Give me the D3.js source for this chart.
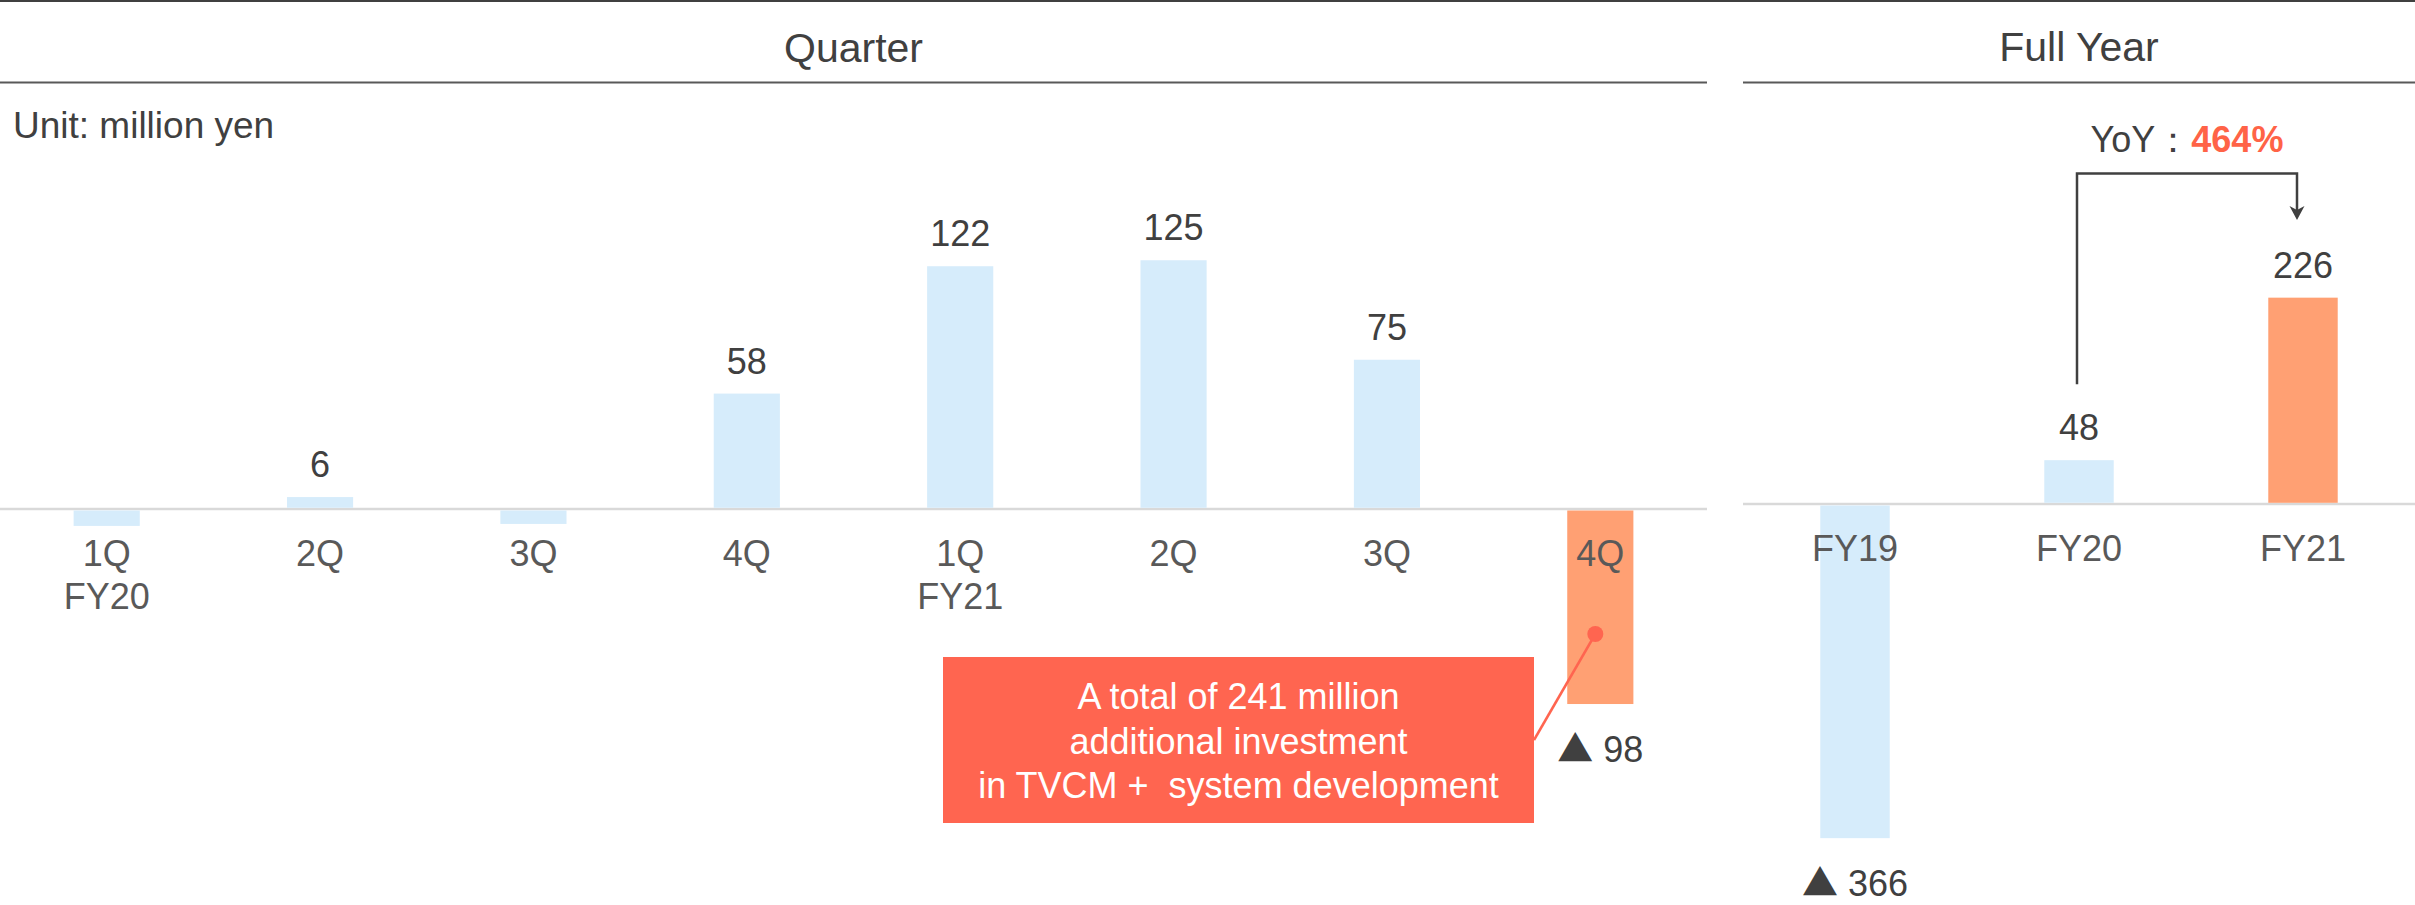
<!DOCTYPE html>
<html>
<head>
<meta charset="utf-8">
<script src="https://cdn.jsdelivr.net/npm/d3@7"></script>
<style>
  html, body { margin: 0; padding: 0; background: #fff; }
  svg { display: block; }
  text { font-family: "Liberation Sans", Arial, sans-serif; }
  .tri { font-family: "Noto Sans CJK JP", "DejaVu Sans", sans-serif; }
</style>
</head>
<body>
<div id="chart"></div>
<script>
// ---- Data ----
const quarters = ["1Q FY20", "2Q FY20", "3Q FY20", "4Q FY20", "1Q FY21", "2Q FY21", "3Q FY21", "4Q FY21"];
const quarterTop = ["1Q", "2Q", "3Q", "4Q", "1Q", "2Q", "3Q", "4Q"];
const quarterSub = ["FY20", "", "", "", "FY21", "", "", ""];
const quarterValues = [-8.5, 6, -7.5, 58, 122, 125, 75, -98];
const quarterLabels = ["", "6", "", "58", "122", "125", "75", "98"];
const quarterHighlight = [false, false, false, false, false, false, false, true];

const years = ["FY19", "FY20", "FY21"];
const yearValues = [-366, 48, 226];
const yearLabels = ["366", "48", "226"];
const yearHighlight = [false, false, true];

const yoyText = "464%";
const calloutLines = ["A total of 241 million", "additional investment", "in TVCM +  system development"];

// ---- Styles ----
const W = 2415, H = 905;
const blue = "#D6ECFB", orange = "#FFA073", red = "#FF6550";
const dark = "#404040", gray = "#595959";

const svg = d3.select("#chart").append("svg").attr("width", W).attr("height", H);
svg.append("rect").attr("width", W).attr("height", H).attr("fill", "#fff");

// top rule
svg.append("line").attr("x1", 0).attr("x2", W).attr("y1", 1).attr("y2", 1)
  .attr("stroke", dark).attr("stroke-width", 2);

// ---- Scales ----
const xQ = d3.scaleBand().domain(quarters).range([0, 1707]).paddingInner(0.69).paddingOuter(0.345);
const yQ = d3.scaleLinear().domain([0, 100]).range([509, 310]);
const xF = d3.scaleBand().domain(years).range([1743, 2415]).paddingInner(0.69).paddingOuter(0.345);
const yF = d3.scaleLinear().domain([0, 100]).range([504, 412.7]);

// ---- Panel headers ----
function header(x0, x1, title, baseY) {
  svg.append("line").attr("x1", x0).attr("x2", x1).attr("y1", 82.5).attr("y2", 82.5)
    .attr("stroke", "#595959").attr("stroke-width", 2);
  svg.append("text").attr("x", (x0 + x1) / 2).attr("y", baseY).attr("text-anchor", "middle")
    .attr("font-size", 41).attr("fill", dark).text(title);
}
header(0, 1707, "Quarter", 62);
header(1743, 2415, "Full Year", 61);

svg.append("text").attr("x", 13).attr("y", 138).attr("font-size", 37).attr("fill", dark)
  .text("Unit: million yen");

// value label helper: negative values get a ▲ prefix
function valueLabel(sel, label, value) {
  sel.text(null);
  if (!label) return;
  if (value < 0) {
    sel.append("tspan").attr("class", "tri").text("▲");
    sel.append("tspan").text(" " + label);
  } else {
    sel.text(label);
  }
}

// ---- Quarter panel ----
const gQ = svg.append("g");
gQ.append("line").attr("x1", 0).attr("x2", 1707).attr("y1", yQ(0)).attr("y2", yQ(0))
  .attr("stroke", "#D9D9D9").attr("stroke-width", 2.5);

gQ.selectAll("rect.bar").data(quarters).join("rect").attr("class", "bar")
  .attr("x", d => xQ(d))
  .attr("width", xQ.bandwidth())
  .attr("y", (d, i) => quarterValues[i] >= 0 ? yQ(quarterValues[i]) : yQ(0) + 1.5)
  .attr("height", (d, i) => quarterValues[i] >= 0 ? yQ(0) - 1.2 - yQ(quarterValues[i]) : yQ(quarterValues[i]) - yQ(0) - 1.5)
  .attr("fill", (d, i) => quarterHighlight[i] ? orange : blue);

gQ.selectAll("text.val").data(quarters).join("text").attr("class", "val")
  .attr("x", d => xQ(d) + xQ.bandwidth() / 2)
  .attr("y", (d, i) => quarterValues[i] >= 0 ? yQ(quarterValues[i]) - 20 : yQ(quarterValues[i]) + 58)
  .attr("text-anchor", "middle").attr("font-size", 36).attr("fill", dark)
  .each(function (d, i) { valueLabel(d3.select(this), quarterLabels[i], quarterValues[i]); });

// category axis
const axQ = gQ.append("g").attr("transform", `translate(0,${yQ(0)})`)
  .call(d3.axisBottom(xQ).tickSize(0).tickPadding(0).tickFormat(() => ""));
axQ.select(".domain").remove();
axQ.selectAll(".tick text").each(function (d, i) {
  const t = d3.select(this).attr("y", 0).attr("dy", null)
    .attr("font-size", 36).attr("fill", gray).attr("font-family", null);
  t.append("tspan").attr("x", 0).attr("y", 57).text(quarterTop[i]);
  if (quarterSub[i]) t.append("tspan").attr("x", 0).attr("y", 100).text(quarterSub[i]);
});

// ---- Full year panel ----
const gF = svg.append("g");
gF.append("line").attr("x1", 1743).attr("x2", W).attr("y1", yF(0)).attr("y2", yF(0))
  .attr("stroke", "#D9D9D9").attr("stroke-width", 2.5);

gF.selectAll("rect.bar").data(years).join("rect").attr("class", "bar")
  .attr("x", d => xF(d))
  .attr("width", xF.bandwidth())
  .attr("y", (d, i) => yearValues[i] >= 0 ? yF(yearValues[i]) : yF(0) + 1.5)
  .attr("height", (d, i) => yearValues[i] >= 0 ? yF(0) - 1.2 - yF(yearValues[i]) : yF(yearValues[i]) - yF(0) - 1.5)
  .attr("fill", (d, i) => yearHighlight[i] ? orange : blue);

gF.selectAll("text.val").data(years).join("text").attr("class", "val")
  .attr("x", d => xF(d) + xF.bandwidth() / 2)
  .attr("y", (d, i) => yearValues[i] >= 0 ? yF(yearValues[i]) - 20 : yF(yearValues[i]) + 58)
  .attr("text-anchor", "middle").attr("font-size", 36).attr("fill", dark)
  .each(function (d, i) { valueLabel(d3.select(this), yearLabels[i], yearValues[i]); });

const axF = gF.append("g").attr("transform", `translate(0,${yF(0)})`)
  .call(d3.axisBottom(xF).tickSize(0).tickPadding(0).tickFormat(() => ""));
axF.select(".domain").remove();
axF.selectAll(".tick text").each(function (d, i) {
  d3.select(this).attr("y", 57).attr("dy", null).attr("font-size", 36)
    .attr("fill", gray).attr("font-family", null).text(years[i]);
});

// ---- YoY connector ----
const cx20 = xF("FY20") + xF.bandwidth() / 2 - 2;
const cx21 = xF("FY21") + xF.bandwidth() / 2 - 6;
const topY = 173.5;
const startY = yF(yearValues[1]) - 76;
const tipY = 220;
svg.append("path")
  .attr("d", `M${cx20},${startY} V${topY} H${cx21} V${tipY - 8}`)
  .attr("fill", "none").attr("stroke", dark).attr("stroke-width", 2.5);
svg.append("path")
  .attr("d", `M${cx21},${tipY} L${cx21 - 7.5},${tipY - 14} L${cx21},${tipY - 10} L${cx21 + 7.5},${tipY - 14} Z`)
  .attr("fill", dark);

const yoy = svg.append("text").attr("x", 2187).attr("y", 152).attr("text-anchor", "middle")
  .attr("font-size", 36).attr("fill", dark);
yoy.append("tspan").text("YoY：");
yoy.append("tspan").attr("font-weight", "bold").attr("fill", "#FF6347").text(yoyText);

// ---- Callout ----
const bx = 943, by = 657, bw = 591, bh = 166;
const barX4 = xQ("4Q FY21") + xQ.bandwidth() / 2 - 5;
const dotY = 634;
svg.append("line").attr("x1", bx + bw).attr("y1", 740).attr("x2", barX4).attr("y2", dotY)
  .attr("stroke", red).attr("stroke-width", 2.5);
svg.append("circle").attr("cx", barX4).attr("cy", dotY).attr("r", 8).attr("fill", red);
svg.append("rect").attr("x", bx).attr("y", by).attr("width", bw).attr("height", bh).attr("fill", red);
svg.append("text").attr("text-anchor", "middle").attr("font-size", 36).attr("fill", "#fff")
  .attr("xml:space", "preserve").style("white-space", "pre")
  .selectAll("tspan").data(calloutLines).join("tspan")
  .attr("x", bx + bw / 2).attr("y", (d, i) => 709 + i * 44.5).text(d => d);
</script>
</body>
</html>
